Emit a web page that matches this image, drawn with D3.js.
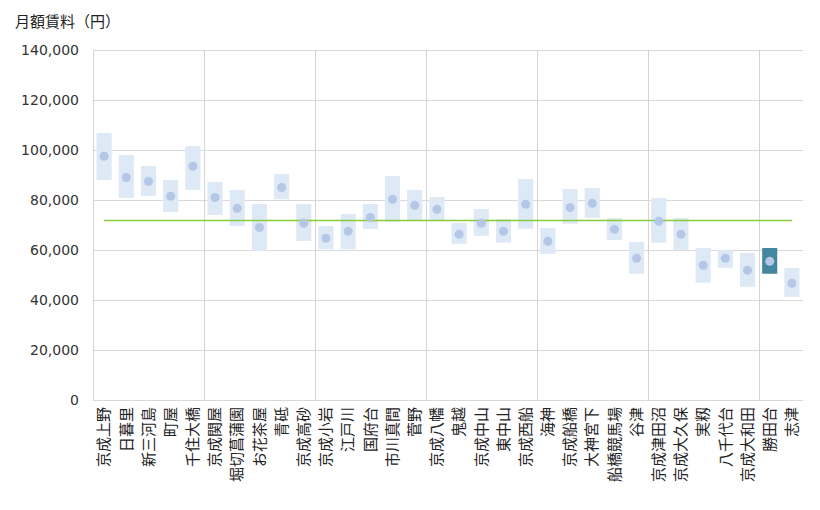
<!DOCTYPE html>
<html>
<head>
<meta charset="utf-8">
<script src="https://cdn.jsdelivr.net/npm/d3@7"></script>
<style>
  body { margin: 0; background: #fff; }
  svg { display: block; }
</style>
</head>
<body>
<svg id="chart" width="820" height="510"></svg>
<script>
const categories = ["京成上野","日暮里","新三河島","町屋","千住大橋","京成関屋","堀切菖蒲園","お花茶屋","青砥","京成高砂",
  "京成小岩","江戸川","国府台","市川真間","菅野","京成八幡","鬼越","京成中山","東中山","京成西船",
  "海神","京成船橋","大神宮下","船橋競馬場","谷津","京成津田沼","京成大久保","実籾","八千代台","京成大和田",
  "勝田台","志津"];
const highValues = [106800,98000,93600,88000,101600,87200,84000,78400,90400,78400,
  69600,74400,78400,89600,84000,81200,70800,76400,72400,88400,
  68800,84400,84800,72800,63200,80800,72800,60800,60100,58800,
  60800,52800];
const lowValues = [88000,80800,81600,75200,84000,74000,69600,59600,80300,63600,
  60300,60300,68400,71300,72000,72000,62500,65700,62900,68500,
  58500,70500,72900,64000,50500,62900,60100,46900,52900,45300,
  50500,41300];
const meanValues = [97500,89000,87500,81500,93500,81000,76700,69000,85000,70700,
  64700,67500,73000,80300,77900,76300,66300,70700,67500,78300,
  63500,77000,78700,68300,56700,71500,66300,53900,56700,51900,
  55500,46700];
const overallAverage = 71800;
const highlighted = "勝田台";
const yTicks = [0,20000,40000,60000,80000,100000,120000,140000];
const yTitle = "月額賃料（円）";

const svg = d3.select("#chart");
const margin = {left: 93, right: 17, top: 50, bottom: 110};
const W = 820, H = 510;

const x = d3.scaleBand().domain(categories).range([margin.left, W - margin.right]).padding(0);
const y = d3.scaleLinear().domain([0, 140000]).range([H - margin.bottom, margin.top]);

const numFont = "'DejaVu Sans', Verdana, sans-serif";
const jpFont = "'Noto Sans CJK JP', 'Noto Sans', sans-serif";

// horizontal grid
svg.append("g").selectAll("line").data(yTicks).join("line")
  .attr("x1", margin.left).attr("x2", W - margin.right)
  .attr("y1", d => y(d)).attr("y2", d => y(d))
  .attr("stroke", "#d9d9d9").attr("stroke-width", 1)
  .attr("shape-rendering", "crispEdges");

// vertical grid every 5 categories
const vIdx = categories.map((c, i) => i).filter(i => i % 5 === 0);
svg.append("g").selectAll("line").data(vIdx).join("line")
  .attr("x1", i => Math.round(x(categories[i])) + 0.5).attr("x2", i => Math.round(x(categories[i])) + 0.5)
  .attr("y1", y(140000)).attr("y2", y(0))
  .attr("stroke", "#d4d4d4").attr("stroke-width", 1);

// y axis labels
const yAxis = d3.axisLeft(y).tickValues(yTicks).tickSize(0).tickPadding(14)
  .tickFormat(d3.format(","));
const ya = svg.append("g").attr("transform", `translate(${margin.left},0)`).call(yAxis);
ya.select(".domain").remove();
ya.selectAll("text").attr("font-family", numFont).attr("font-size", 14).attr("fill", "#333");

// range boxes
const bw = x.bandwidth() * 0.68;
const data = categories.map((c, i) => ({c, hi: highValues[i], lo: lowValues[i], m: meanValues[i]}));
svg.append("g").selectAll("rect").data(data).join("rect")
  .attr("x", d => x(d.c) + (x.bandwidth() - bw) / 2)
  .attr("width", bw)
  .attr("y", d => y(d.hi))
  .attr("height", d => y(d.lo) - y(d.hi))
  .attr("fill", d => d.c === highlighted ? "#43879e" : "#dde9f5");

// average line
svg.append("line")
  .attr("x1", x(categories[0]) + x.bandwidth() / 2)
  .attr("x2", x(categories[categories.length - 1]) + x.bandwidth() / 2)
  .attr("y1", y(overallAverage)).attr("y2", y(overallAverage))
  .attr("stroke", "#86cc3c").attr("stroke-width", 1.3);

// mean dots
svg.append("g").selectAll("circle").data(data).join("circle")
  .attr("cx", d => x(d.c) + x.bandwidth() / 2)
  .attr("cy", d => y(d.m))
  .attr("r", 4.5)
  .attr("fill", "#b4c7e7");

// x axis line
svg.append("line")
  .attr("x1", margin.left).attr("x2", W - margin.right)
  .attr("y1", y(0) + 0.5).attr("y2", y(0) + 0.5)
  .attr("stroke", "#d9d9d9");

// x labels (vertical)
const xAxis = d3.axisBottom(x).tickSize(0).tickPadding(0);
const xa = svg.append("g").attr("transform", `translate(0,${y(0)})`).call(xAxis);
xa.select(".domain").remove();
xa.selectAll("text")
  .attr("font-family", jpFont).attr("font-size", 15).attr("fill", "#222")
  .attr("text-anchor", "end")
  .attr("dy", "0.35em").attr("dx", "-7")
  .attr("y", 0)
  .attr("transform", "rotate(-90)");

// title
svg.append("text").attr("x", 15).attr("y", 27)
  .attr("font-family", jpFont).attr("font-size", 15).attr("fill", "#222")
  .text(yTitle);
</script>
</body>
</html>
